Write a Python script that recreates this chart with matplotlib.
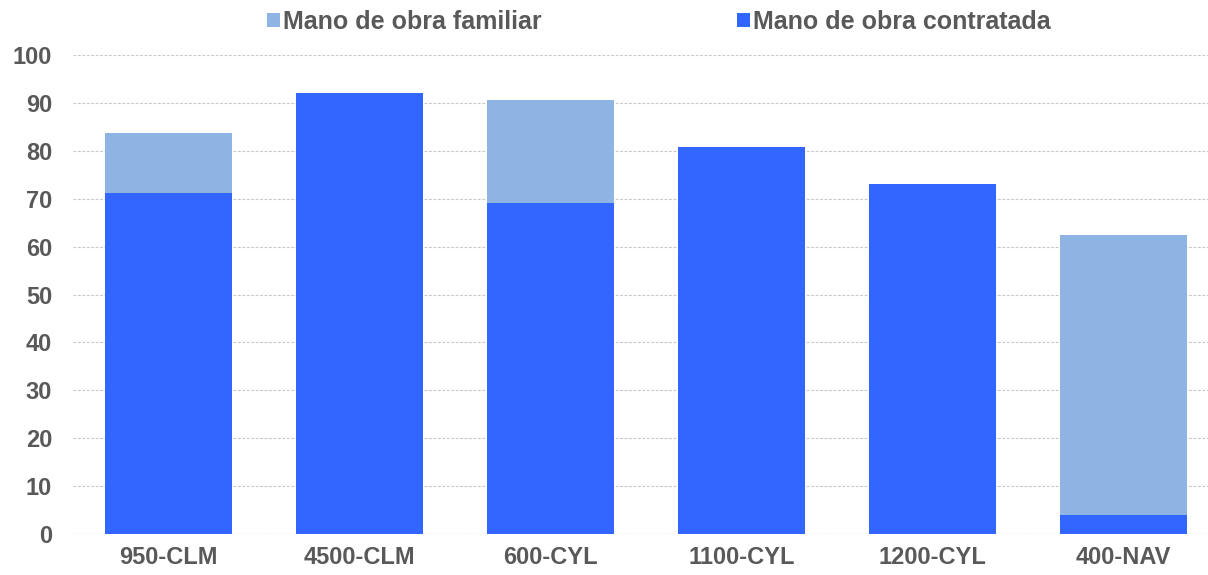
import matplotlib
matplotlib.use('Agg')
import matplotlib.pyplot as plt

categories = ['950-CLM', '4500-CLM', '600-CYL', '1100-CYL', '1200-CYL', '400-NAV']
contratada = [71.2, 92.0, 69.2, 80.8, 73.1, 4.0]
familiar = [12.6, 0.0, 21.4, 0.0, 0.0, 58.4]

plt.rcParams['font.family'] = ['Liberation Sans', 'DejaVu Sans']
text_color = '#595959'

fig = plt.figure(figsize=(12.08, 5.75), dpi=100)
ax = fig.add_axes([73 / 1208, 41 / 575, 1146 / 1208, 479 / 575])

x = range(len(categories))
b1 = ax.bar(x, contratada, width=0.665, color='#3366FF', zorder=2,
            label='Mano de obra contratada')
b2 = ax.bar(x, familiar, width=0.665, bottom=contratada, color='#8EB4E3',
            zorder=2, label='Mano de obra familiar')

ax.set_xlim(-0.5, len(categories) - 0.5)
ax.set_ylim(0, 100)
ax.set_yticks(range(0, 101, 10))
ax.set_xticks(list(x))
ax.set_xticklabels(categories)
ax.yaxis.grid(True, color='#C8C8C8', linestyle=(0, (2.5, 1.5)), linewidth=0.8, zorder=0)
ax.axhline(0, color='#C8C8C8', linestyle=(0, (2.5, 1.5)), linewidth=0.8, zorder=1)
for s in ax.spines.values():
    s.set_visible(False)
ax.tick_params(axis='both', length=0, labelsize=17, labelcolor=text_color)
ax.tick_params(axis='y', pad=15)
ax.tick_params(axis='x', pad=9)
for lbl in ax.get_xticklabels() + ax.get_yticklabels():
    lbl.set_fontweight('bold')

leg = fig.legend(handles=[b2, b1], loc='center', bbox_to_anchor=(659 / 1208, 1 - 22 / 575),
                 ncol=2, frameon=False, handlelength=0.5, handleheight=0.5,
                 handletextpad=0.15, columnspacing=7.8, borderpad=0,
                 prop={'size': 18, 'weight': 'bold'})
for t in leg.get_texts():
    t.set_color(text_color)

fig.savefig('out.png', dpi=100)
plt.close()
